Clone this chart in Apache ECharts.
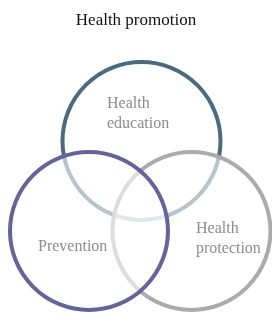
<!DOCTYPE html>
<html>
<head>
<meta charset="utf-8">
<script src="https://cdn.jsdelivr.net/npm/echarts@6/dist/echarts.min.js"></script>
<style>html,body{margin:0;padding:0;background:#fff}#c{width:272px;height:314px}</style>
</head>
<body>
<div id="c"></div>
<script>
// Venn sets (drawing order: education, protection, prevention)
var setNames = ['Health education', 'Health protection', 'Prevention'];
var labelLines = [['Health', 'education'], ['Health', 'protection'], ['Prevention']];
var centerX = [141.5, 191.5, 89];
var centerY = [141, 231, 231];
var radius = [79, 79, 79];
var labelX = [107, 196, 38];
var labelY = [114, 239, 247];
var colors = ['#4a6b7f', '#ababab', '#66629c'];

var data = setNames.map(function (n, i) {
  return { name: n, value: [centerX[i], centerY[i], radius[i], labelX[i], labelY[i]] };
});

var chart = echarts.init(document.getElementById('c'));
chart.setOption({
  animation: false,
  title: {
    text: 'Health promotion', left: 'center', top: 7,
    textStyle: { fontFamily: 'Liberation Serif', fontSize: 17, fontWeight: 'normal', color: '#111' }
  },
  grid: { left: 0, right: 0, top: 0, bottom: 0 },
  xAxis: { type: 'value', min: 0, max: 272, show: false },
  yAxis: { type: 'value', min: 0, max: 314, inverse: true, show: false },
  series: [{
    type: 'custom',
    coordinateSystem: 'cartesian2d',
    data: data,
    renderItem: function (params, api) {
      var i = params.dataIndex;
      var c = api.coord([api.value(0), api.value(1)]);
      var r = api.size([api.value(2), 0])[0];
      var lp = api.coord([api.value(3), api.value(4)]);
      return {
        type: 'group',
        children: [{
          type: 'circle',
          shape: { cx: c[0], cy: c[1], r: r },
          style: { fill: 'rgba(255,255,255,0.6)', stroke: colors[i], lineWidth: 4 }
        }, {
          type: 'text',
          x: lp[0], y: lp[1],
          style: {
            text: labelLines[i].join('\n'),
            fontFamily: 'Liberation Serif', fontSize: 16, lineHeight: 20,
            fill: '#8c8c8c', align: 'left', verticalAlign: 'middle'
          }
        }]
      };
    }
  }]
});
</script>
</body>
</html>
